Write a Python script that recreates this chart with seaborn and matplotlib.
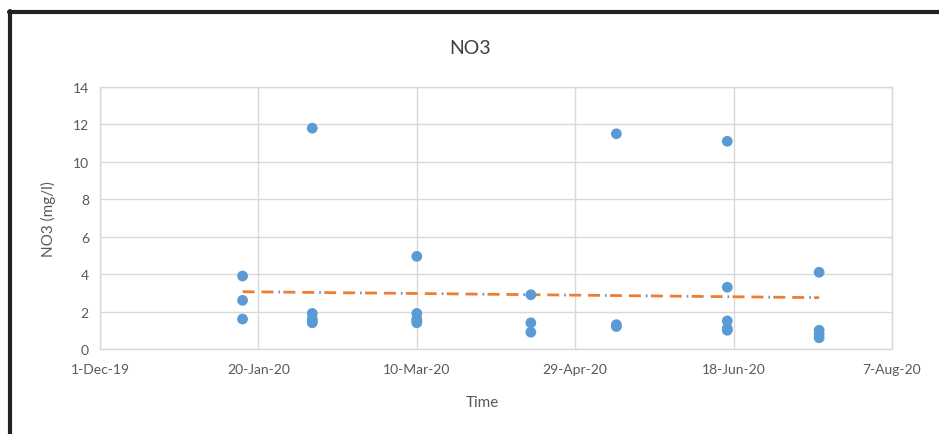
import numpy as np
import pandas as pd
import matplotlib
matplotlib.use("Agg")
import matplotlib.pyplot as plt
import matplotlib.dates as mdates
from matplotlib.lines import Line2D
import seaborn as sns

# sampling dates and NO3 readings (mg/l)
# (the low clusters hold a few overlapping points)
sample_dates = ["2020-01-15"] * 3 + ["2020-02-06"] * 5 + ["2020-03-10"] * 5 + \
               ["2020-04-15"] * 3 + ["2020-05-12"] * 3 + ["2020-06-16"] * 5 + \
               ["2020-07-15"] * 4
no3_values = [3.9, 2.6, 1.6,
              11.8, 1.9, 1.6, 1.5, 1.4,
              4.95, 1.9, 1.6, 1.5, 1.4,
              2.9, 1.4, 0.9,
              11.5, 1.3, 1.2,
              11.1, 3.3, 1.5, 1.1, 1.0,
              4.1, 1.0, 0.8, 0.6]
x_ticks = ["2019-12-01", "2020-01-20", "2020-03-10", "2020-04-29", "2020-06-18", "2020-08-07"]
y_ticks = [0, 2, 4, 6, 8, 10, 12, 14]

df = pd.DataFrame({"Time": pd.to_datetime(sample_dates), "NO3": no3_values})

sns.set_style("white")
plt.rcParams["font.family"] = ["Lato", "DejaVu Sans"]

fig = plt.figure(figsize=(9.39, 4.35), dpi=100)
ax = fig.add_axes([100 / 939, 1 - 350 / 435, 792 / 939, 262 / 435])

sns.scatterplot(data=df, x="Time", y="NO3", ax=ax, color="#5B9BD5",
                s=60, edgecolor="none", zorder=3)

# linear trendline like excel (orange dashes with small blue dots)
xnum = mdates.date2num(df["Time"])
k, b = np.polyfit(xnum, df["NO3"], 1)
xt = np.array([xnum.min(), xnum.max()])
ax.plot(mdates.num2date(xt), k * xt + b, color="#ED7D31", lw=2,
        linestyle=(0, (4.3, 2.5, 4.3, 3.6)), zorder=2)
ax.plot(mdates.num2date(xt), k * xt + b, color="#5B9BD5", lw=2,
        linestyle=(1.8, (0.6, 14.1)), zorder=2)

ticks = pd.to_datetime(x_ticks)
ax.set_xlim(ticks[0], ticks[-1])
ax.set_xticks(ticks)
ax.xaxis.set_major_formatter(mdates.DateFormatter("%-d-%b-%y"))
ax.set_ylim(0, 14)
ax.set_yticks(y_ticks)
ax.grid(True, color="#D9D9D9", lw=1)
ax.set_axisbelow(True)
for sp in ax.spines.values():
    sp.set_color("#D9D9D9")
    sp.set_linewidth(1)
ax.tick_params(axis="both", length=0, labelsize=10, labelcolor="#595959")
ax.tick_params(axis="x", pad=10)
ax.tick_params(axis="y", pad=8)
ax.set_xlabel("")
ax.set_ylabel("")

fig.text(470 / 939, 1 - 48 / 435, "NO3", ha="center", va="center",
         fontsize=14, color="#404040")
fig.text(482 / 939, 1 - 403 / 435, "Time", ha="center", va="center",
         fontsize=11, color="#595959")
fig.text(48 / 939, 1 - 219 / 435, "NO3 (mg/l)", ha="center", va="center",
         rotation=90, fontsize=11, color="#595959")

# dark frame along top and left edge
fig.add_artist(Line2D([9 / 939, 1], [1 - 13 / 435, 1 - 13 / 435], color="#222222", lw=3))
fig.add_artist(Line2D([9.5 / 939, 9.5 / 939], [0, 1 - 12 / 435], color="#222222", lw=3))

fig.savefig("out.png", dpi=100)
